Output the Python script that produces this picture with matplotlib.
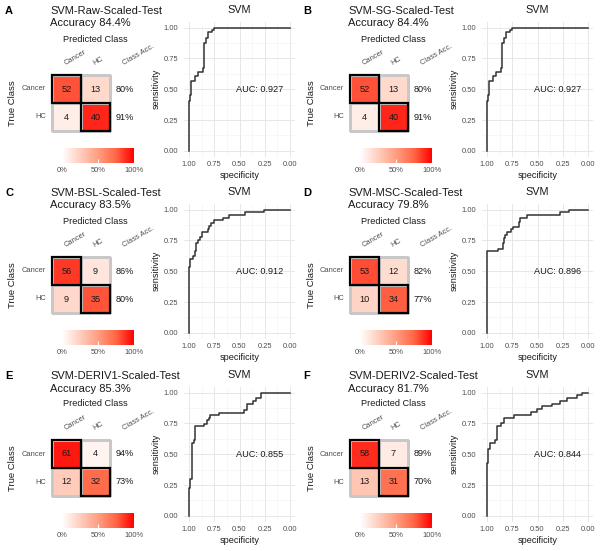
import numpy as np
import matplotlib
matplotlib.use("Agg")
import matplotlib.pyplot as plt
from matplotlib.colors import LinearSegmentedColormap
from matplotlib.patches import Rectangle

plt.rcParams['font.family'] = ['Liberation Sans', 'DejaVu Sans']

# ---- data ----
letters = ["A", "B", "C", "D", "E", "F"]
titles = ["SVM-Raw-Scaled-Test", "SVM-SG-Scaled-Test", "SVM-BSL-Scaled-Test",
          "SVM-MSC-Scaled-Test", "SVM-DERIV1-Scaled-Test", "SVM-DERIV2-Scaled-Test"]
classes = ["Cancer", "HC"]

cm_A = [[52, 13], [4, 40]]
cm_B = [[52, 13], [4, 40]]
cm_C = [[56, 9], [9, 35]]
cm_D = [[53, 12], [10, 34]]
cm_E = [[61, 4], [12, 32]]
cm_F = [[58, 7], [13, 31]]

auc = [0.927, 0.927, 0.912, 0.896, 0.855, 0.844]

spec_A = [1.0, 1.0, 0.99, 0.977, 0.94, 0.916, 0.866, 0.852, 0.83, 0.81, 0.768, 0.75, 0.0]
sens_A = [0.0, 0.405, 0.454, 0.57, 0.61, 0.643, 0.67, 0.873, 0.913, 0.962, 0.98, 1.0, 1.0]
spec_B = list(spec_A)
sens_B = list(sens_A)
spec_C = [1.0, 1.0, 0.99, 0.956, 0.94, 0.93, 0.913, 0.89, 0.876, 0.815, 0.8, 0.78, 0.75,
          0.664, 0.6, 0.45, 0.262, 0.0]
sens_C = [0.0, 0.538, 0.597, 0.624, 0.664, 0.731, 0.753, 0.78, 0.82, 0.844, 0.866, 0.892,
          0.914, 0.935, 0.957, 0.978, 1.0, 1.0]
spec_D = [1.0, 1.0, 0.893, 0.843, 0.833, 0.82, 0.803, 0.76, 0.742, 0.686, 0.67, 0.602,
          0.28, 0.19, 0.0]
sens_D = [0.0, 0.662, 0.684, 0.73, 0.77, 0.796, 0.818, 0.842, 0.863, 0.903, 0.93, 0.957,
          0.978, 1.0, 1.0]
spec_E = [1.0, 1.0, 0.987, 0.97, 0.953, 0.94, 0.856, 0.826, 0.805, 0.79, 0.708, 0.456,
          0.43, 0.362, 0.336, 0.285, 0.0]
sens_E = [0.0, 0.224, 0.296, 0.593, 0.615, 0.728, 0.749, 0.776, 0.798, 0.82, 0.838, 0.86,
          0.91, 0.933, 0.957, 1.0, 1.0]
spec_F = [1.0, 1.0, 0.987, 0.973, 0.926, 0.9, 0.866, 0.833, 0.732, 0.56, 0.502, 0.458,
          0.358, 0.274, 0.207, 0.107, 0.057, 0.0]
sens_F = [0.0, 0.431, 0.539, 0.593, 0.615, 0.728, 0.755, 0.798, 0.82, 0.84, 0.865, 0.889,
          0.911, 0.933, 0.957, 0.978, 1.0, 1.0]

cms = [cm_A, cm_B, cm_C, cm_D, cm_E, cm_F]
specs = [spec_A, spec_B, spec_C, spec_D, spec_E, spec_F]
senss = [sens_A, sens_B, sens_C, sens_D, sens_E, sens_F]

# ---- layout (pixels) ----
W, H = 600, 551
col_off = [0, 298]
row_off = [0, 182, 365]

def box(x0, y0, x1, y1):
    return [x0 / W, 1 - y1 / H, (x1 - x0) / W, (y1 - y0) / H]

def fx(x):
    return x / W

def fy(y):
    return 1 - y / H

reds = LinearSegmentedColormap.from_list(
    "reds", ["#FFFFFF", "#FFCFBF", "#FF9E81", "#FF6746", "#FF0000"])
txt = "#1A1A1A"
grey = "#4D4D4D"

fig = plt.figure(figsize=(6, 5.51), dpi=100)

for p in range(6):
    ox = col_off[p % 2]
    oy = row_off[p // 2]
    cm = np.array(cms[p], dtype=float)
    frac = cm / cm.sum(axis=1, keepdims=True)
    acc = np.trace(cm) / cm.sum() * 100

    fig.text(fx(ox + 5), fy(oy + 11), letters[p], fontsize=8, fontweight="bold",
             va="center", ha="left", color="black")
    fig.text(fx(ox + 50), fy(oy + 11), titles[p], fontsize=8, va="center", ha="left", color=txt)
    fig.text(fx(ox + 50), fy(oy + 23.5), f"Accuracy {acc:.1f}%", fontsize=8, va="center",
             ha="left", color=txt)
    fig.text(fx(ox + 95), fy(oy + 39), "Predicted Class", fontsize=6.6, va="center",
             ha="center", color=txt)
    fig.text(fx(ox + 13), fy(oy + 103), "True Class", fontsize=6.8, va="center",
             ha="center", rotation=90, color=txt)

    # confusion matrix
    ax = fig.add_axes(box(ox + 52, oy + 75, ox + 110, oy + 131))
    mesh = ax.pcolormesh(frac, cmap=reds, vmin=0, vmax=1, edgecolors="#C8C8C8", linewidth=0.8)
    mesh.set_clip_on(False)
    ax.set_xlim(0, 2)
    ax.set_ylim(2, 0)
    ax.axis("off")
    for i in range(2):
        ax.add_patch(Rectangle((i, i), 1, 1, fill=False, ec="black", lw=1.6, zorder=3,
                               clip_on=False))
        for j in range(2):
            ax.text(j + 0.5, i + 0.5, f"{int(cm[i, j])}", ha="center", va="center",
                    fontsize=6.6, color=txt)
        ax.text(2.5, i + 0.5, f"{round(frac[i, i] * 100):.0f}%", ha="center", va="center",
                fontsize=6.6, color=txt, clip_on=False)
        ax.text(-0.2, i + 0.5, classes[i], ha="right", va="center", fontsize=5.4,
                color=grey, clip_on=False)
    for j, lab in enumerate(classes + ["Class Acc."]):
        ax.text(j + 0.5, -0.28, lab, ha="left", va="bottom", rotation=30,
                rotation_mode="anchor", fontsize=5.4, color=grey, clip_on=False)

    # colour bar
    cax = fig.add_axes(box(ox + 62, oy + 148, ox + 134, oy + 163))
    cax.imshow(np.linspace(0, 1, 256).reshape(1, -1), cmap=reds, aspect="auto",
               extent=[0, 100, 0, 1])
    cax.set_xticks([0, 50, 100])
    cax.set_xticklabels(["0%", "50%", "100%"])
    cax.tick_params(axis="x", direction="in", length=3, color="white", labelsize=5.4,
                    labelcolor=grey, pad=3)
    cax.set_yticks([])
    for s in cax.spines.values():
        s.set_visible(False)

    # ROC curve
    rax = fig.add_axes(box(ox + 184, oy + 21.5, ox + 295, oy + 157))
    rax.step(specs[p], senss[p], where="post", color="#333333", lw=1.1, zorder=3)
    rax.set_xlim(1.05, -0.05)
    rax.set_ylim(-0.05, 1.05)
    ticks = [1.0, 0.75, 0.5, 0.25, 0.0]
    rax.set_xticks(ticks)
    rax.set_yticks(ticks)
    rax.set_xticklabels([f"{t:.2f}" for t in ticks])
    rax.set_yticklabels([f"{t:.2f}" for t in ticks])
    rax.set_xticks([0.875, 0.625, 0.375, 0.125], minor=True)
    rax.set_yticks([0.875, 0.625, 0.375, 0.125], minor=True)
    rax.grid(which="major", color="#E3E3E3", lw=0.6)
    rax.grid(which="minor", color="#F1F1F1", lw=0.4)
    rax.tick_params(which="both", length=0, labelsize=5.4, labelcolor=grey, pad=3)
    rax.tick_params(axis="y", pad=4)
    for s in rax.spines.values():
        s.set_visible(False)
    rax.set_xlabel("specificity", fontsize=6.6, color=txt, labelpad=2)
    rax.set_ylabel("sensitivity", fontsize=6.6, color=txt, labelpad=2)
    rax.set_title("SVM", fontsize=7.8, color=txt, pad=6)
    rax.text(0.3, 0.5, f"AUC: {auc[p]:.3f}", ha="center", va="center", fontsize=6.6,
             color=txt)

fig.savefig("out.png", dpi=100)
